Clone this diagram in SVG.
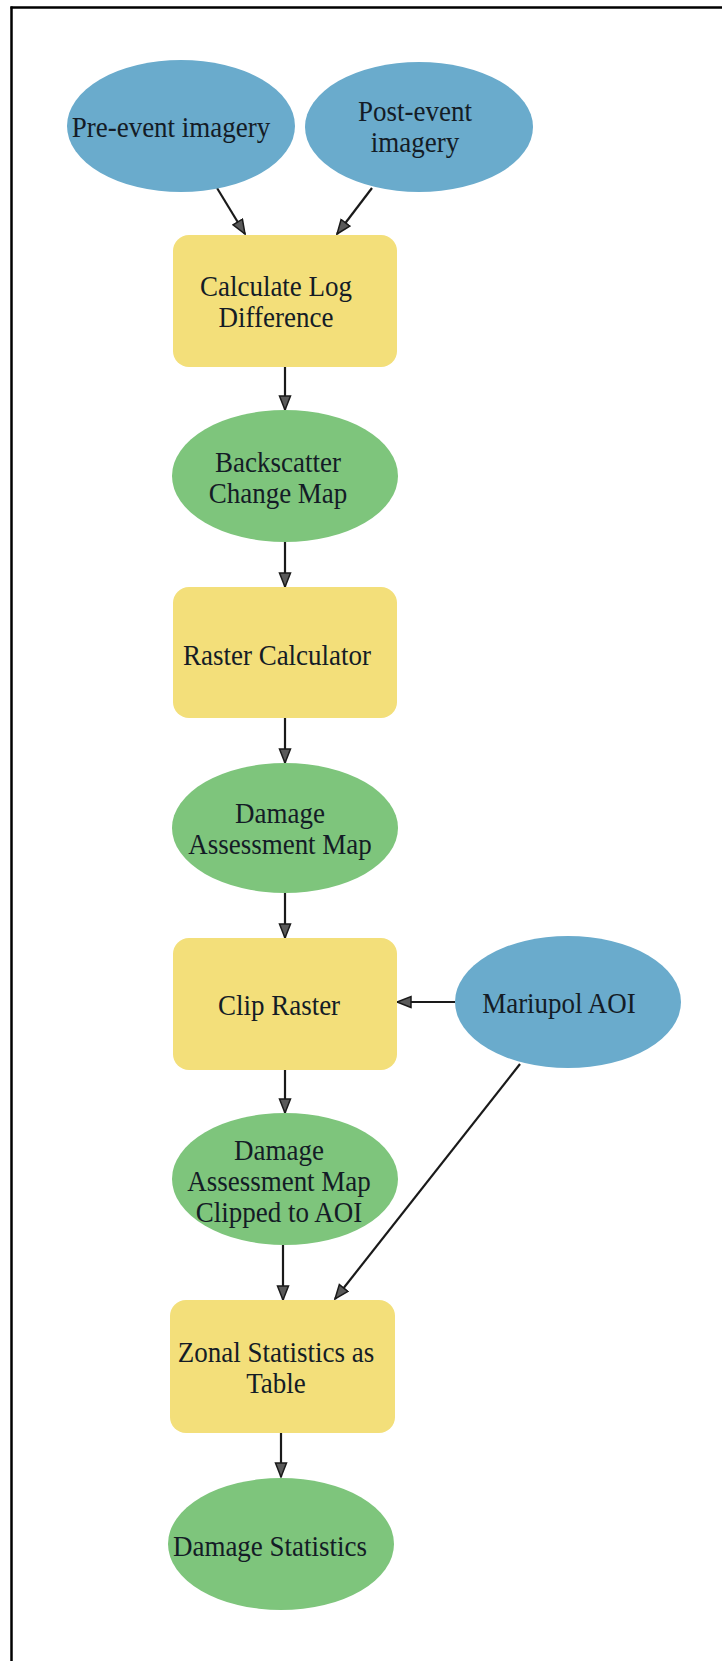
<svg xmlns="http://www.w3.org/2000/svg" width="722" height="1661" viewBox="0 0 722 1661">
<style>
.blue{fill:#6aabcc}
.green{fill:#7ec57c}
.yellow{fill:#f3df7a}
.t{font-family:"Liberation Serif","Times New Roman",serif;font-size:27px;fill:#141c26;text-anchor:middle}
.edge{stroke:#1a1a1a;stroke-width:2.2;fill:none;marker-end:url(#ah)}
</style>
<defs>
<marker id="ah" markerUnits="userSpaceOnUse" markerWidth="17" markerHeight="14" refX="15" refY="6.5" orient="auto">
<path d="M1,1 L15,6.5 L1,12 Z" fill="#5a5a5a" stroke="#1a1a1a" stroke-width="1.5" stroke-linejoin="miter"/>
</marker>
</defs>
<rect width="722" height="1661" fill="#ffffff"/>
<g id="frame">
<line x1="10.5" y1="7.5" x2="722" y2="7.5" stroke="#000" stroke-width="2.5"/>
<line x1="11.5" y1="6.5" x2="11.5" y2="1661" stroke="#000" stroke-width="2.5"/>
</g>
<g id="connectors">
<line class="edge" x1="217" y1="188" x2="245" y2="234"/>
<line class="edge" x1="372" y1="188" x2="337" y2="234"/>
<line class="edge" x1="285" y1="367" x2="285" y2="410"/>
<line class="edge" x1="285" y1="542" x2="285" y2="587"/>
<line class="edge" x1="285" y1="718" x2="285" y2="763"/>
<line class="edge" x1="285" y1="893" x2="285" y2="938"/>
<line class="edge" x1="455" y1="1002" x2="397" y2="1002"/>
<line class="edge" x1="285" y1="1070" x2="285" y2="1113"/>
<line class="edge" x1="283" y1="1245" x2="283" y2="1300"/>
<line class="edge" x1="520" y1="1064" x2="335" y2="1299"/>
<line class="edge" x1="281" y1="1433" x2="281" y2="1477"/>
</g>
<g id="pre">
<ellipse class="blue" cx="181" cy="126" rx="114" ry="66"/>
<text class="t" transform="translate(171,137) scale(1,1.1)">Pre-event imagery</text>
</g>
<g id="post">
<ellipse class="blue" cx="419" cy="127" rx="114" ry="65"/>
<text class="t" transform="translate(415,121) scale(1,1.1)">Post-event</text>
<text class="t" transform="translate(415,152) scale(1,1.1)">imagery</text>
</g>
<g id="calc">
<rect class="yellow" x="173" y="235" width="224" height="132" rx="16"/>
<text class="t" transform="translate(276,296) scale(1,1.1)">Calculate Log</text>
<text class="t" transform="translate(276,327) scale(1,1.1)">Difference</text>
</g>
<g id="backscatter">
<ellipse class="green" cx="285" cy="476" rx="113" ry="66"/>
<text class="t" transform="translate(278,472) scale(1,1.1)">Backscatter</text>
<text class="t" transform="translate(278,503) scale(1,1.1)">Change Map</text>
</g>
<g id="raster">
<rect class="yellow" x="173" y="587" width="224" height="131" rx="16"/>
<text class="t" transform="translate(277,665) scale(1,1.1)">Raster Calculator</text>
</g>
<g id="dam">
<ellipse class="green" cx="285" cy="828" rx="113" ry="65"/>
<text class="t" transform="translate(280,823) scale(1,1.1)">Damage</text>
<text class="t" transform="translate(280,854) scale(1,1.1)">Assessment Map</text>
</g>
<g id="clip">
<rect class="yellow" x="173" y="938" width="224" height="132" rx="16"/>
<text class="t" transform="translate(279,1015) scale(1,1.1)">Clip Raster</text>
</g>
<g id="aoi">
<ellipse class="blue" cx="568" cy="1002" rx="113" ry="66"/>
<text class="t" transform="translate(559,1013) scale(1,1.1)">Mariupol AOI</text>
</g>
<g id="damclip">
<ellipse class="green" cx="285" cy="1179" rx="113" ry="66"/>
<text class="t" transform="translate(279,1160) scale(1,1.1)">Damage</text>
<text class="t" transform="translate(279,1191) scale(1,1.1)">Assessment Map</text>
<text class="t" transform="translate(279,1222) scale(1,1.1)">Clipped to AOI</text>
</g>
<g id="zonal">
<rect class="yellow" x="170" y="1300" width="225" height="133" rx="16"/>
<text class="t" transform="translate(276,1362) scale(1,1.1)">Zonal Statistics as</text>
<text class="t" transform="translate(276,1393) scale(1,1.1)">Table</text>
</g>
<g id="stats">
<ellipse class="green" cx="281" cy="1544" rx="113" ry="66"/>
<text class="t" transform="translate(270,1556) scale(1,1.1)">Damage Statistics</text>
</g>
</svg>
